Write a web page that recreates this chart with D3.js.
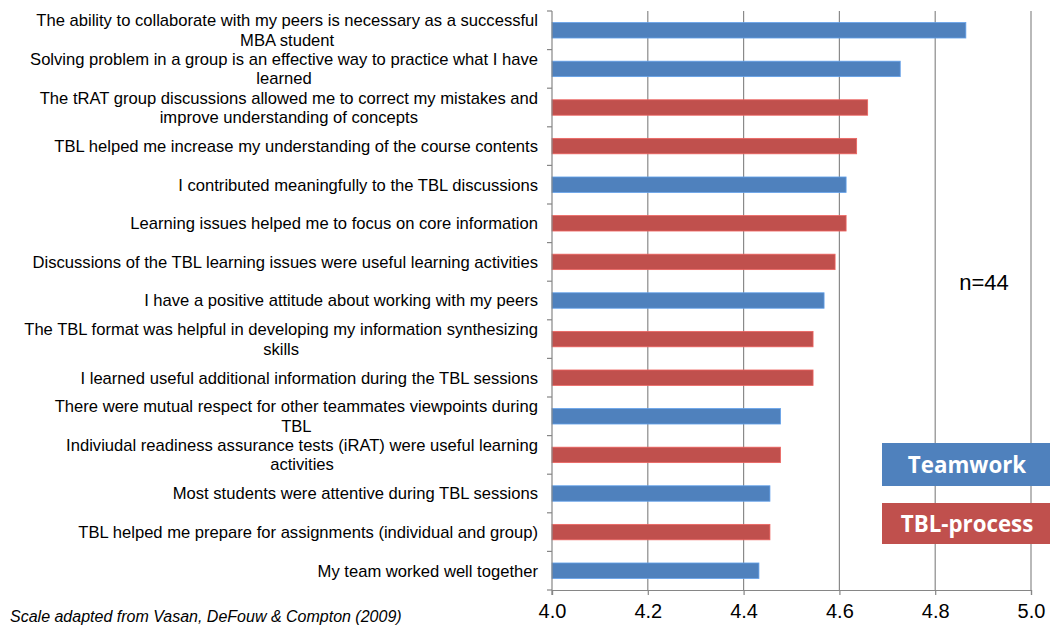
<!DOCTYPE html>
<html>
<head>
<meta charset="utf-8">
<script src="https://cdn.jsdelivr.net/npm/d3@7"></script>
<style>
  body { margin: 0; background: #fff; }
  svg { display: block; }
</style>
</head>
<body>
<div id="chart"></div>
<script>
// statements, top to bottom ("\n" marks where the label wraps)
const statements = [
  "The ability to collaborate with my peers is necessary as a successful\nMBA student",
  "Solving problem in a group is an effective way to practice what I have\nlearned",
  "The tRAT group discussions allowed me to correct my mistakes and\nimprove understanding of concepts",
  "TBL helped me increase my understanding of the course contents",
  "I contributed meaningfully to the TBL discussions",
  "Learning issues helped me to focus on core information",
  "Discussions of the TBL learning issues were useful learning activities",
  "I have a positive attitude about working with my peers",
  "The TBL format was helpful in developing my information synthesizing\nskills",
  "I learned useful additional information during the TBL sessions",
  "There were mutual respect for other teammates viewpoints during\nTBL",
  "Indiviudal readiness assurance tests (iRAT) were useful learning\nactivities",
  "Most students were attentive during TBL sessions",
  "TBL helped me prepare for assignments (individual and group)",
  "My team worked well together"
];
const scores = [4.864, 4.727, 4.659, 4.636, 4.614, 4.614, 4.591, 4.568,
                4.545, 4.545, 4.477, 4.477, 4.455, 4.455, 4.432];
const groups = ["Teamwork", "Teamwork", "TBL-process", "TBL-process", "Teamwork",
                "TBL-process", "TBL-process", "Teamwork", "TBL-process", "TBL-process",
                "Teamwork", "TBL-process", "Teamwork", "TBL-process", "Teamwork"];
const xTicks = [4.0, 4.2, 4.4, 4.6, 4.8, 5.0];
const legendItems = ["Teamwork", "TBL-process"];

const width = 1050, height = 628;
const plotLeft = 552, plotRight = 1031, plotTop = 11, plotBottom = 590;

const svg = d3.select("#chart").append("svg")
  .attr("width", width)
  .attr("height", height);

const x = d3.scaleLinear().domain([4.0, 5.0]).range([plotLeft, plotRight]);
const y = d3.scaleBand().domain(d3.range(statements.length))
  .range([plotTop, plotBottom]).paddingInner(0.6).paddingOuter(0.3);
const color = d3.scaleOrdinal().domain(legendItems).range(["#4f81bd", "#c0504d"]);

const rows = statements.map((s, i) => ({ label: s, value: scores[i], group: groups[i] }));

// gridlines
svg.append("g")
  .selectAll("line")
  .data(xTicks.slice(1))
  .join("line")
  .attr("x1", d => x(d)).attr("x2", d => x(d))
  .attr("y1", plotTop).attr("y2", plotBottom)
  .attr("stroke", "#8a8a8a").attr("stroke-width", 1.2);

// bars
svg.append("g")
  .selectAll("rect")
  .data(rows)
  .join("rect")
  .attr("x", x(4.0))
  .attr("y", (d, i) => y(i))
  .attr("width", d => x(d.value) - x(4.0))
  .attr("height", y.bandwidth())
  .attr("fill", d => color(d.group))
  .attr("stroke", d => d3.color(color(d.group)).brighter(0.6))
  .attr("stroke-width", 0.8);

// left axis line + ticks at band boundaries
const step = y.step();
svg.append("line")
  .attr("x1", plotLeft).attr("x2", plotLeft).attr("y1", plotTop).attr("y2", plotBottom + 5)
  .attr("stroke", "#868686").attr("stroke-width", 1.2);
svg.append("g")
  .selectAll("line")
  .data(d3.range(statements.length + 1))
  .join("line")
  .attr("x1", plotLeft - 5).attr("x2", plotLeft)
  .attr("y1", i => plotTop + i * step).attr("y2", i => plotTop + i * step)
  .attr("stroke", "#868686").attr("stroke-width", 1.2);

// bottom axis
const xAxis = svg.append("g")
  .attr("transform", `translate(0,${plotBottom})`)
  .call(d3.axisBottom(x).tickValues(xTicks).tickFormat(d3.format(".1f")).tickSize(5).tickPadding(9));
xAxis.select(".domain").attr("stroke", "#868686").attr("stroke-width", 1.2);
xAxis.selectAll(".tick line").attr("stroke", "#868686").attr("stroke-width", 1.2);
xAxis.selectAll("text")
  .attr("font-family", "Liberation Sans, Arial, sans-serif")
  .attr("font-size", 20).attr("fill", "#000");

// category labels: block right-aligned, lines centred within block
const labelRight = 538, lineH = 19.5;
const labels = svg.append("g")
  .attr("font-family", "Liberation Sans, Arial, sans-serif")
  .attr("font-size", 16.6).attr("fill", "#000");
rows.forEach((d, i) => {
  const lines = d.label.split("\n");
  const g = labels.append("g");
  const texts = lines.map((ln, j) => g.append("text")
    .attr("y", y(i) + y.bandwidth() / 2 + (j - (lines.length - 1) / 2) * lineH)
    .attr("dy", "0.35em")
    .text(ln));
  const w = d3.max(texts, t => t.node().getComputedTextLength());
  texts.forEach(t => t.attr("x", labelRight - w / 2).attr("text-anchor", "middle"));
});

// n label
svg.append("text")
  .attr("x", 984).attr("y", 290)
  .attr("text-anchor", "middle")
  .attr("font-family", "Liberation Sans, Arial, sans-serif")
  .attr("font-size", 22)
  .text("n=44");

// legend boxes
const legend = svg.append("g");
const boxTop = [443, 503], boxH = [43, 41];
legendItems.forEach((k, i) => {
  legend.append("rect")
    .attr("x", 882).attr("y", boxTop[i])
    .attr("width", 168).attr("height", boxH[i])
    .attr("fill", color(k));
  legend.append("text")
    .attr("x", 967).attr("y", boxTop[i] + boxH[i] / 2)
    .attr("dy", "0.36em")
    .attr("text-anchor", "middle")
    .attr("font-family", "Open Sans, sans-serif")
    .attr("font-weight", "bold")
    .attr("font-size", 22.3)
    .attr("fill", "#fff")
    .text(k);
});

// source note
svg.append("text")
  .attr("x", 10).attr("y", 622)
  .attr("font-family", "Liberation Sans, Arial, sans-serif")
  .attr("font-style", "italic")
  .attr("font-size", 16)
  .text("Scale adapted from Vasan, DeFouw & Compton (2009)");
</script>
</body>
</html>
